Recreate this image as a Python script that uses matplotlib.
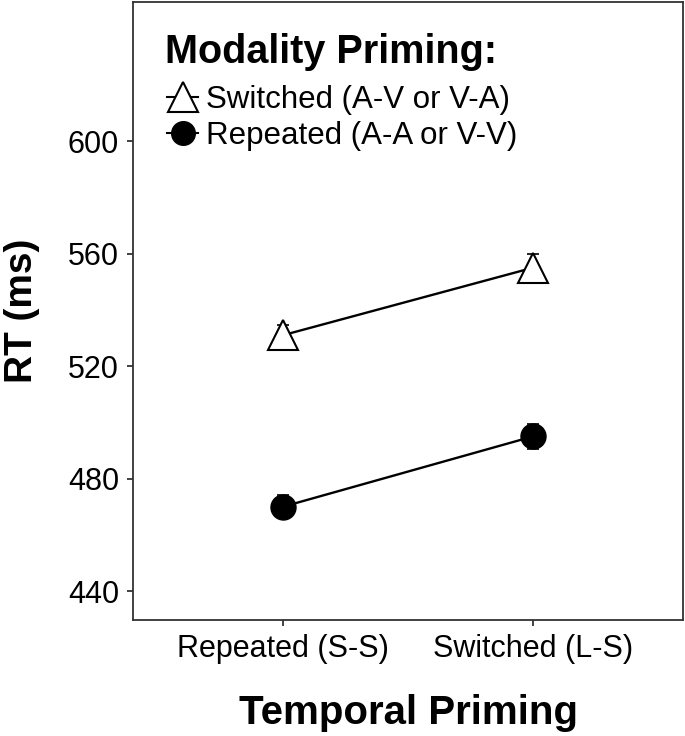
import matplotlib
matplotlib.use("Agg")
import matplotlib.pyplot as plt
from matplotlib.lines import Line2D
import numpy as np

plt.rcParams['font.family'] = ['Liberation Sans', 'DejaVu Sans']

# data
temporal = ['Repeated (S-S)', 'Switched (L-S)']
switched_rt = [531, 555]
switched_se = [3.5, 5]
repeated_rt = [470, 495]
repeated_se = [4, 4.5]
legend_labels = ['Switched (A-V or V-A)', 'Repeated (A-A or V-V)']

fig = plt.figure(figsize=(6.85, 7.36), dpi=100)
ax = fig.add_axes([0.1942, 0.1576, 0.803, 0.8397])

x = np.arange(1, len(temporal) + 1)

# switched modality: open triangles
ax.plot(x, switched_rt, color='black', lw=1.7, zorder=1)
ax.errorbar(x, switched_rt, yerr=switched_se, fmt='none', ecolor='black',
            elinewidth=1.2, capsize=4.5, capthick=1.2, zorder=2)
ax.plot(x, switched_rt, ls='none', marker='^', ms=22, mfc='white',
        mec='black', mew=1.5, zorder=3)

# repeated modality: filled circles
ax.plot(x, repeated_rt, color='black', lw=1.7, zorder=1)
ax.errorbar(x, repeated_rt, yerr=repeated_se, fmt='none', ecolor='black',
            elinewidth=1.2, capsize=4.5, capthick=1.2, zorder=2)
ax.plot(x, repeated_rt, ls='none', marker='o', ms=18, mfc='black',
        mec='black', zorder=3)

ax.set_xlim(0.4, 2.6)
ax.set_ylim(429.7, 649.5)
ax.set_xticks(x)
ax.set_xticklabels(temporal)
ax.set_yticks([440, 480, 520, 560, 600])

for s in ax.spines.values():
    s.set_color('#333333')
    s.set_linewidth(1.3)
ax.tick_params(axis='both', colors='#333333', width=1.3, length=4,
               labelsize=22, labelcolor='black', pad=6)

ax.set_xlabel('Temporal Priming', fontsize=29, fontweight='bold', labelpad=22)
ax.set_ylabel('RT (ms)', fontsize=28, fontweight='bold', labelpad=20)

# legend title drawn as its own text, entries below it
ax.text(0.058, 0.901, 'Modality Priming:', transform=ax.transAxes,
        fontsize=28.5, fontweight='bold', ha='left', va='baseline')

handles = [
    Line2D([0], [0], color='black', lw=1.5, marker='^', ms=21, mfc='white',
           mec='black', mew=1.5),
    Line2D([0], [0], color='black', lw=1.5, marker='o', ms=17, mfc='black',
           mec='black'),
]
leg = ax.legend(handles, legend_labels, loc='center left',
                bbox_to_anchor=(0.062, 0.812), frameon=False,
                fontsize=22.5, handlelength=1.0, handletextpad=0.25,
                labelspacing=0.19, borderpad=0, borderaxespad=0)

fig.savefig('out.png', dpi=100)
